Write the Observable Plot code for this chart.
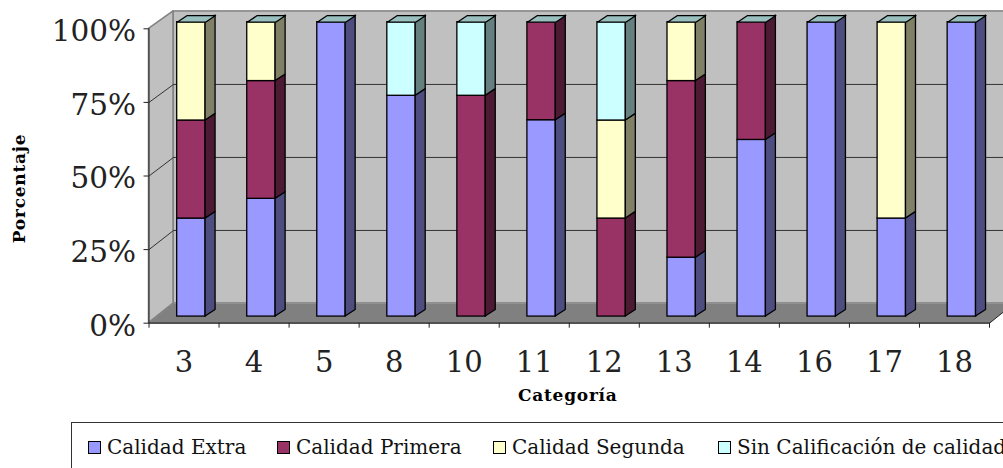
<!DOCTYPE html>
<html><head><meta charset="utf-8">
<script src="https://cdn.jsdelivr.net/npm/d3@7"></script>
<script src="https://cdn.jsdelivr.net/npm/@observablehq/plot@0.6"></script>
<style>
html,body{margin:0;padding:0;background:#fff;overflow:hidden;width:1003px;height:468px}
#chart svg{display:block;overflow:hidden}
.spaced{letter-spacing:0.75px}
#legend{position:relative;box-sizing:border-box;margin:7px 0 0 71px;width:1000px;height:60px;border:1px solid #333;
 font:20px "DejaVu Serif",serif;color:#111;white-space:nowrap}
#legend span.i{position:absolute;top:12px;display:flex;align-items:center}
#legend b{display:inline-block;width:11px;height:11px;border:1px solid #000;margin-right:6px}
#legend span.t{font-weight:normal;line-height:24px}
</style></head><body>
<div id="chart"></div>
<div id="legend"></div>
<script>
const categories = ["3","4","5","8","10","11","12","13","14","16","17","18"];
const seriesNames = ["Calidad Extra","Calidad Primera","Calidad Segunda","Sin Calificación de calidad"];
const extra   = [33.3,40,100,75,0,66.7,0,20,60,100,33.3,100];
const primera = [33.3,40,0,0,75,33.3,33.3,60,40,0,0,0];
const segunda = [33.4,20,0,0,0,0,33.3,20,0,0,66.7,0];
const sinCal  = [0,0,0,25,25,0,33.4,0,0,0,0,0];
const frontColors = ["#9999FF","#993366","#FFFFCC","#CCFFFF"];
const sideColors  = ["#4D4D80","#4D1A33","#808066","#668080"];
const topColor = "#99BFBF";
const legendLeft = [16,205,421,646];

const values = [extra,primera,segunda,sinCal];
// geometry of the fake 3-D box, in scale units
const wallDx = 0.35, floorDy = 6.7, ceilDy = 5.9;
const backY = v => v + floorDy + (ceilDy - floorDy) * v / 100;
const barOffset = 0.105, barW = 0.405, barDx = 0.143, barDy = 2.25;

const segs = [];
categories.forEach((c,i)=>{
  let acc = 0;
  values.forEach((vals,s)=>{
    const v = vals[i];
    if (v>0) segs.push({i,s,low:acc,high:acc+v});
    acc += v;
  });
});
const x1Of = i => i + 0.5 + barOffset - barW/2;
const x2Of = i => i + 0.5 + barOffset + barW/2;

const sideData = segs.flatMap((d,k)=>[
  {k,x:x2Of(d.i),y1:d.low+barDy,y2:d.high+barDy,s:d.s},
  {k,x:x2Of(d.i)+barDx,y1:d.low+2*barDy,y2:d.high+2*barDy,s:d.s}
]);
const topPoly = categories.flatMap((c,i)=>[
  {i,x:x1Of(i),y:100+barDy},
  {i,x:x1Of(i)+barDx,y:100+2*barDy},
  {i,x:x2Of(i)+barDx,y:100+2*barDy},
  {i,x:x2Of(i),y:100+barDy},
  {i,x:x1Of(i),y:100+barDy}
]);
const gridVals = [25,50,75];
const backGrid = gridVals.flatMap(v=>[{v,x:wallDx,y:backY(v)},{v,x:12.4,y:backY(v)}]);
const sideGrid = gridVals.flatMap(v=>[{v,x:0,y:v},{v,x:wallDx,y:backY(v)}]);

const edges = d3.range(0,13);
const centres = categories.map((c,i)=>i+0.5);

const plot = Plot.plot({
  width:1003,height:415,
  marginLeft:148.5,marginRight:14,marginTop:28.3,marginBottom:92.3,
  style:{background:"transparent",fontFamily:"DejaVu Serif",color:"#111"},
  x:{domain:[0,12],label:null},
  y:{domain:[0,100],label:null},
  color:{type:"identity"},
  marks:[
    Plot.rect([0],{x1:wallDx,x2:12.4,y1:backY(0),y2:backY(100),fill:"#C0C0C0",stroke:"#808080",strokeWidth:1.5}),
    Plot.areaY([{x:0,y1:0,y2:100},{x:wallDx,y1:backY(0),y2:backY(100)}],{x:"x",y1:"y1",y2:"y2",fill:"#C0C0C0",stroke:"#808080",strokeWidth:1.5}),
    Plot.line([{x:0,y:0},{x:wallDx,y:backY(0)},{x:12+wallDx,y:backY(0)},{x:12,y:0},{x:0,y:0}],{x:"x",y:"y",fill:"#808080",stroke:"none"}),
    Plot.line([{x:12,y:0},{x:12+wallDx,y:backY(0)}],{x:"x",y:"y",stroke:"#222",strokeWidth:1}),
    Plot.line([{x:0,y:0},{x:wallDx,y:backY(0)}],{x:"x",y:"y",stroke:"#808080",strokeWidth:1}),
    Plot.line(backGrid,{x:"x",y:"y",z:"v",stroke:"#333",strokeWidth:1}),
    Plot.line(sideGrid,{x:"x",y:"y",z:"v",stroke:"#333",strokeWidth:1}),
    Plot.rect(segs,{x1:d=>x1Of(d.i),x2:d=>x2Of(d.i),y1:d=>d.low+barDy,y2:d=>d.high+barDy,fill:d=>frontColors[d.s],stroke:"#000",strokeWidth:1.3}),
    Plot.areaY(sideData,{x:"x",y1:"y1",y2:"y2",z:"k",fill:d=>sideColors[d.s],stroke:"#000",strokeWidth:1.3}),
    Plot.line(topPoly,{x:"x",y:"y",z:"i",fill:topColor,stroke:"#000",strokeWidth:1.3}),
    Plot.axisY({ticks:[0,25,50,75,100],tickFormat:()=>"",tickSize:5,label:null,stroke:"#222"}),
    Plot.axisY({ticks:[0,25,50,75,100],tickFormat:d=>d+"%",tickSize:0,tickPadding:13,dy:3,fontSize:29.5,label:null,color:"#222"}),
    Plot.ruleX([0],{y1:0,y2:100,stroke:"#222",strokeWidth:1}),
    Plot.ruleY([0],{x1:0,x2:12,stroke:"#222",strokeWidth:1.3}),
    Plot.axisX(edges,{tickSize:5,tickFormat:()=>"",label:null,stroke:"#222"}),
    Plot.axisX(centres,{tickSize:0,tickPadding:28,tickFormat:v=>categories[v-0.5],fontSize:29,label:null,color:"#222"}),
    Plot.text(["Categoría"],{frameAnchor:"bottom",textAnchor:"middle",dy:78,dx:-1.5,text:d=>d,fontSize:17,fontWeight:"bold",fill:"#000",className:"spaced"}),
    Plot.text(["Porcentaje"],{frameAnchor:"left",textAnchor:"middle",dx:-129,dy:12.5,rotate:-90,text:d=>d,fontSize:17,fontWeight:"bold",fill:"#000",className:"spaced"})
  ]
});
document.getElementById("chart").appendChild(plot);
const legend = document.getElementById("legend");
seriesNames.forEach((n,i)=>{
  const it=document.createElement("span");it.className="i";it.style.left=legendLeft[i]+"px";
  const sw=document.createElement("b");sw.style.background=frontColors[i];
  const t=document.createElement("span");t.className="t";t.textContent=n;
  it.append(sw,t);legend.append(it);
});
</script>
</body></html>
